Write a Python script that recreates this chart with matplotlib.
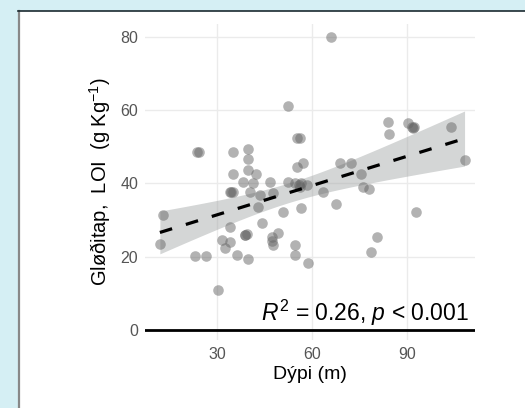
import numpy as np
import matplotlib.pyplot as plt
from matplotlib.patches import Rectangle

plt.rcParams['font.family'] = ['Liberation Sans', 'DejaVu Sans']
plt.rcParams['mathtext.fontset'] = 'custom'
plt.rcParams['mathtext.rm'] = 'Liberation Sans'
plt.rcParams['mathtext.it'] = 'Liberation Sans:italic'

# depth (m) and loss on ignition
depth = [13, 12, 23, 26.5, 23.6, 24.2, 30.4, 31.5, 34.1, 32.5, 34.1, 36.2, 39.9,
         38.8, 39.5, 38.9, 34.1, 34.6, 35.2, 35.2, 35.2, 39.9, 39.9, 39.9, 38.3, 40.4,
         42.5, 41.4, 43.6, 43, 44.1, 46.7, 47.7, 47.3, 49.4, 47.8, 47.5, 50.9, 52.5,
         54.6, 56.7, 58.3, 56.3, 56.0, 55.2, 57.3, 55.2, 56.3, 52.5, 56.7, 54.6, 54.8,
         58.8, 63.6, 67.5, 66, 69, 72.2, 75.4, 76, 78, 78.6, 80.7, 84, 84.4, 90.2,
         92.3, 92, 91.5, 93, 104, 108.2]
loi = [31.4, 23.5, 20.3, 20.3, 48.6, 48.6, 10.9, 24.5, 24.1, 22.3, 28.2, 20.4, 19.3,
       25.9, 26.2, 26.0, 37.7, 37.7, 37.7, 42.7, 48.6, 49.5, 46.8, 43.6, 40.4, 37.7,
       42.7, 40, 36.8, 33.6, 29.1, 40.4, 37.3, 25.5, 26.4, 23.2, 24.3, 32.3, 40.4,
       40, 40, 39.5, 39.1, 39.5, 44.5, 45.5, 52.3, 52.3, 61, 33.2, 23.2, 20.5,
       18.2, 37.7, 34.5, 80, 45.5, 45.5, 42.7, 39.1, 38.6, 21.4, 25.5, 56.8, 53.6, 56.4,
       55.5, 55, 55.3, 32.3, 55.5, 46.4]
xticks = [30, 60, 90]
yticks = [0, 20, 40, 60, 80]
label_text = r'$R^2$ = 0.26, $p$ < 0.001'

x = np.array(depth)
y = np.array(loi)

# linear fit with 95% confidence band
n = len(x)
b, a = np.polyfit(x, y, 1)
resid = y - (a + b * x)
s = np.sqrt(np.sum(resid ** 2) / (n - 2))
sxx = np.sum((x - x.mean()) ** 2)
xs = np.linspace(x.min(), x.max(), 100)
ys = a + b * xs
se = s * np.sqrt(1 / n + (xs - x.mean()) ** 2 / sxx)
t = 1.995

fig = plt.figure(figsize=(5.25, 4.08), dpi=100, facecolor='#d5eff4')
fig.patches.append(Rectangle((18 / 525, 0), 1, 1 - 11 / 408, transform=fig.transFigure,
                             facecolor='white', edgecolor='none', zorder=-2))
fig.lines.append(plt.Line2D([18.5 / 525, 18.5 / 525], [0, 1 - 11 / 408], transform=fig.transFigure,
                            color='#888888', lw=1.6, zorder=-1))
fig.lines.append(plt.Line2D([18 / 525, 1], [1 - 11 / 408, 1 - 11 / 408], transform=fig.transFigure,
                            color='#1a2a30', lw=1.2, zorder=-1))

ax = fig.add_axes([145 / 525, 1 - 340 / 408, 330 / 525, (340 - 24) / 408])
ax.set_facecolor('none')
ax.set_xlim(7.3, 111.5)
ax.set_ylim(-2.7, 83.5)

ax.fill_between(xs, ys - t * se, ys + t * se, color='#a0a4a4', alpha=0.45, lw=0, zorder=2)
ax.scatter(x, y, s=58, color='#666666', alpha=0.5, lw=0, zorder=3)
ax.plot(xs, ys, color='black', lw=2.3, dashes=(4, 4.5), zorder=4)
ax.axhline(0, color='black', lw=2, zorder=4)

ax.text(109.5, 0.6, label_text, ha='right', va='bottom', fontsize=16.5, color='black', zorder=5)

ax.set_xticks(xticks)
ax.set_yticks(yticks)
ax.grid(True, color='#ebebeb', lw=1)
ax.set_axisbelow(True)
ax.tick_params(length=0, labelsize=11.5, labelcolor='#555555', pad=5)
for sp in ax.spines.values():
    sp.set_visible(False)

ax.set_xlabel('Dýpi (m)', fontsize=14, labelpad=3)
ax.set_ylabel('Gløðitap,  LOI  (g Kg$^{-1}$)', fontsize=14.5, labelpad=5)

fig.savefig('out.png', dpi=100, facecolor=fig.get_facecolor())
